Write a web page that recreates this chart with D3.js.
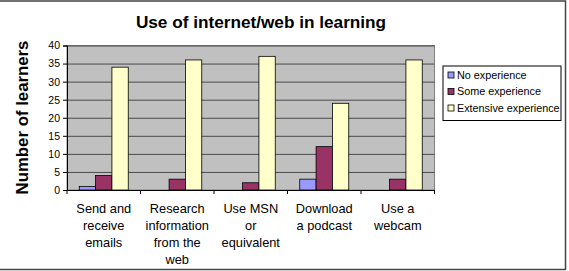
<!DOCTYPE html>
<html><head><meta charset="utf-8">
<script src="https://cdn.jsdelivr.net/npm/d3@7"></script>
<style>body{margin:0;background:#fff}svg{display:block;font-family:Arial,"Liberation Sans",sans-serif}</style>
</head><body><svg id="c" width="569" height="271"></svg>
<script>
const categories = [["Send and","receive","emails"],["Research","information","from the","web"],["Use MSN","or","equivalent"],["Download","a podcast"],["Use a","webcam"]];
const seriesNames = ["No experience","Some experience","Extensive experience"];
const noExp = [1,0,0,3,0];
const someExp = [4,3,2,12,3];
const extExp = [34,36,37,24,36];
const yTicks = [0,5,10,15,20,25,30,35,40];
const colors = ["#9999ff","#993366","#ffffcc"];
const series = [noExp, someExp, extExp];

const svg = d3.select("#c");
svg.append("rect").attr("x",-2).attr("y",1).attr("width",567.5).attr("height",268.5)
  .attr("fill","#fff").attr("stroke","#444").attr("stroke-width",1.5);

const L=67, R=434.5, T=45.5, B=190;
const x = d3.scaleBand().domain(d3.range(categories.length)).range([L,R]).paddingInner(0).paddingOuter(0);
const y = d3.scaleLinear().domain([0,40]).range([B,T]);
const bw = x.bandwidth()/4.5;

svg.append("rect").attr("x",L).attr("y",T).attr("width",R-L).attr("height",B-T).attr("fill","#c0c0c0").attr("stroke","#808080");
svg.append("g").selectAll("line").data(yTicks.filter(d=>d>0)).join("line")
  .attr("x1",L).attr("x2",R).attr("y1",d=>y(d)+.5).attr("y2",d=>y(d)+.5).attr("stroke","#4a4a4a").attr("stroke-width",1);

series.forEach((s,si)=>{
  svg.append("g").selectAll("rect").data(s).join("rect")
    .attr("x",(d,i)=>x(i)+bw*0.75+si*bw).attr("y",d=>y(d)).attr("width",bw).attr("height",d=>B-y(d))
    .attr("fill",colors[si]).attr("stroke","#000").attr("stroke-width",0.8);
});

const ya = svg.append("g").attr("transform",`translate(${L},0)`)
  .call(d3.axisLeft(y).tickValues(yTicks).tickSize(4).tickPadding(3));
ya.select(".domain").attr("stroke","#000");
ya.selectAll("text").attr("font-size",10.5).attr("font-family","Arial").attr("fill","#000");

svg.append("line").attr("x1",L).attr("x2",R).attr("y1",B+.5).attr("y2",B+.5).attr("stroke","#000");
svg.append("g").selectAll("line").data(d3.range(categories.length+1)).join("line")
  .attr("x1",i=>L+i*x.bandwidth()).attr("x2",i=>L+i*x.bandwidth()).attr("y1",B).attr("y2",B+4).attr("stroke","#000");

categories.forEach((lines,i)=>{
  const t = svg.append("text").attr("text-anchor","middle").attr("font-size",12.8).attr("fill","#000");
  lines.forEach((ln,j)=>t.append("tspan").attr("x",x(i)+x.bandwidth()/2).attr("y",213+j*17).text(ln));
});

svg.append("text").attr("x",261).attr("y",28).attr("text-anchor","middle").attr("font-size",17.2).attr("font-weight","bold").text("Use of internet/web in learning");
svg.append("text").attr("transform","translate(27.5,117.5) rotate(-90)").attr("text-anchor","middle").attr("font-size",16.8).attr("font-weight","bold").text("Number of learners");

const lg = svg.append("g");
lg.append("rect").attr("x",443).attr("y",66).attr("width",118).attr("height",54.5).attr("fill","#fff").attr("stroke","#000");
seriesNames.forEach((n,i)=>{
  const yy = 75+i*16.5;
  lg.append("rect").attr("x",448).attr("y",yy-3).attr("width",6).attr("height",6).attr("fill",colors[i]).attr("stroke","#000").attr("stroke-width",0.8);
  lg.append("text").attr("x",457).attr("y",yy+3.8).attr("font-size",10.8).text(n);
});
</script></body></html>
